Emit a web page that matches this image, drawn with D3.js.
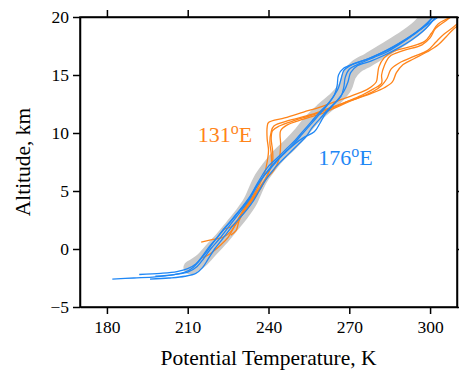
<!DOCTYPE html>
<html>
<head>
<meta charset="utf-8">
<script src="https://cdn.jsdelivr.net/npm/d3@7"></script>
<style>
  body { margin: 0; background: #fff; }
  svg text { font-family: "Liberation Serif", "Times New Roman", serif; }
  .axis path, .axis line { stroke: #000; stroke-width: 1.5; }
</style>
</head>
<body>
<script>
// potential temperature (K) vs altitude (km), pairs [theta, z]
const meanProfile = [[211,-1.6],[215,-1],[219,0],[223,1],[226.5,2],[230,3],[233,4],[235,5],[237,6],[240,7],[243.5,8],[248,9],[252,10],[255.5,11],[260,12],[265,13],[268.5,14],[270,15],[272.5,15.7],[277,16.3],[282,17],[289,18],[295,19],[299,20]];

const blue1 = [[182,-2.6],[190,-2.5],[198,-2.4],[205,-2.2],[209,-2],[212,-1.6],[214,-1.1],[216.5,-0.4],[219,0.4],[222,1.3],[225,2.1],[228,3],[231,3.8],[233.5,4.6],[235,5.3],[237,6.1],[239.5,7],[243,7.8],[246.5,8.6],[250,9.4],[253,10.2],[256,11],[259,11.8],[262,12.5],[264.5,13.3],[265.5,14.1],[266,15],[268,15.6],[272,16],[277,16.4],[282,16.9],[287,17.5],[292,18.2],[296,18.9],[300,19.5],[303,20]];
const blue2 = [[192,-2.2],[200,-2.1],[206,-1.95],[210,-1.7],[213,-1.3],[215.5,-0.6],[218,0.2],[221,1],[224,1.9],[227.5,2.8],[230.5,3.7],[233,4.5],[235.5,5.4],[238,6.2],[241,7],[244,7.8],[247,8.5],[250,9.1],[253,9.6],[257,10.1],[259,10.8],[261,11.6],[264,12.4],[267,13.2],[268,14],[268.5,14.8],[270,15.5],[274,16],[279,16.5],[284,17],[289,17.7],[294,18.5],[298,19.2],[301,20]];
const blue3 = [[196,-2.6],[203,-2.5],[209,-2.35],[213,-2.1],[215.5,-1.6],[217.5,-0.9],[220,0],[223,0.9],[226,1.8],[229,2.6],[232,3.4],[234.5,4.2],[236.5,5],[238.5,5.8],[241,6.6],[244,7.4],[247.5,8.2],[251,9],[254,9.7],[256,10.4],[259,11.2],[262,12],[265.5,12.8],[268,13.6],[269.5,14.4],[270.5,15.2],[273,15.8],[278,16.2],[283,16.7],[288,17.3],[293,18],[297,18.7],[300,19.4],[302,20]];
const blue4 = [[198,-2.35],[205,-2.2],[210,-2.0],[213.5,-1.5],[216,-0.8],[218.5,0],[221.5,0.8],[224.5,1.7],[227.5,2.6],[230.5,3.5],[233,4.3],[235,5.1],[237,5.9],[239.5,6.7],[242.5,7.5],[246,8.3],[249.5,9.1],[252.5,9.9],[255.5,10.7],[258.5,11.5],[261.5,12.3],[264,13.1],[266,13.9],[267,14.7],[268,15.4],[271,15.9],[276,16.3],[281,16.8],[286,17.4],[291,18.1],[295.5,18.8],[299,19.5],[301,20]];

const orange1 = [[215,0.6],[219,0.8],[223,1.0],[226,1.5],[228.5,2.5],[231,3.5],[234,4.5],[236.5,5.5],[238.5,6.5],[239.5,7.5],[240,8.5],[239.5,9.5],[239.5,10.5],[240,10.9],[246,11.3],[253,11.8],[260,12.3],[266,12.8],[272,13.3],[277,13.8],[280,14.4],[280.5,15],[281,15.7],[283,16.5],[286,17],[292,17.4],[298,17.9],[300.5,18.6],[303,19.4],[308,20]];
const orange2 = [[223,1.7],[226,1.9],[229,2.6],[232,3.6],[235,4.6],[238,5.6],[240,6.6],[241.5,7.5],[241.5,8.5],[241,9.5],[241.5,10.2],[244,10.6],[250,11.1],[257,11.6],[264,12.2],[270,12.8],[275,13.3],[279,13.8],[282,14.3],[282,15],[283,15.8],[285,16.6],[290,17.1],[297,17.6],[300,18.2],[302,19],[306,19.7],[307.5,20]];
const orange3 = [[215.5,-0.8],[219,-0.3],[222,0.3],[225,1.0],[227.5,2],[230.5,3],[233.5,4],[236.5,5],[239,6],[242,6.8],[244,7.8],[244.5,9],[244.5,10.2],[247,10.7],[253,11.2],[260,11.7],[266,12.3],[272,12.9],[278,13.4],[283,13.9],[286,14.4],[287.5,15.2],[290,15.9],[294,16.4],[299,17],[303,17.6],[306,18.3],[308,18.8],[310,19.2]];
const orange4 = [[226,1.2],[228,1.6],[229,2.4],[231,3.4],[234,4.4],[237,5.4],[239.5,6.3],[241,7.2],[241,8.2],[240.5,9.2],[241,10.1],[242,10.6],[248,11.1],[256,11.6],[262,12.1],[268,12.6],[274,13.1],[279,13.6],[282,14.1],[284,14.7],[285.5,15.5],[289,16.1],[294,16.6],[299,17.1],[302,17.8],[305,18.5],[308,19.0],[310,19.4]];

const xTicks = [180, 210, 240, 270, 300];
const yTicks = [-5, 0, 5, 10, 15, 20];

const width = 459, height = 372;
const margin = {top: 17, right: 2, bottom: 65, left: 80};
const serif = "'Liberation Serif', 'Times New Roman', serif";

const svg = d3.select("body").append("svg")
    .attr("width", width)
    .attr("height", height);

const x = d3.scaleLinear().domain([170, 310]).range([margin.left, width - margin.right]);
const y = d3.scaleLinear().domain([-5, 20]).range([height - margin.bottom, margin.top]);

svg.append("defs").append("clipPath").attr("id", "clip")
  .append("rect")
    .attr("x", margin.left).attr("y", margin.top)
    .attr("width", x.range()[1] - margin.left)
    .attr("height", y.range()[0] - margin.top);

const line = d3.line()
    .x(d => x(d[0]))
    .y(d => y(d[1]))
    .curve(d3.curveCatmullRom);

const plot = svg.append("g").attr("clip-path", "url(#clip)");

plot.append("path")
    .attr("d", line(meanProfile))
    .attr("fill", "none")
    .attr("stroke", "#c9c9c9")
    .attr("stroke-width", 14)
    .attr("stroke-linecap", "round")
    .attr("stroke-linejoin", "round");

[orange1, orange2, orange3, orange4].forEach(d => {
  plot.append("path")
      .attr("d", line(d))
      .attr("fill", "none")
      .attr("stroke", "#ff8419")
      .attr("stroke-width", 1.3);
});

[blue1, blue2, blue3, blue4].forEach(d => {
  plot.append("path")
      .attr("d", line(d))
      .attr("fill", "none")
      .attr("stroke", "#1f87f5")
      .attr("stroke-width", 1.3);
});

const x0 = margin.left, x1 = width - margin.right;
const y0 = height - margin.bottom, y1 = margin.top;

function styleAxis(g) {
  g.attr("font-family", serif).attr("font-size", 17.5);
  g.selectAll("text").attr("fill", "#000");
}

svg.append("g").attr("class", "axis")
    .attr("transform", "translate(0," + y0 + ")")
    .call(d3.axisBottom(x).tickValues(xTicks).tickSizeInner(7).tickSizeOuter(0).tickPadding(7))
    .call(styleAxis);
svg.append("g").attr("class", "axis")
    .attr("transform", "translate(0," + y1 + ")")
    .call(d3.axisTop(x).tickValues(xTicks).tickSizeInner(7).tickSizeOuter(0).tickFormat(""));
svg.append("g").attr("class", "axis")
    .attr("transform", "translate(" + x0 + ",0)")
    .call(d3.axisLeft(y).tickValues(yTicks).tickSizeInner(7).tickSizeOuter(0).tickPadding(4)
      .tickFormat(d => d < 0 ? "\u2212" + Math.abs(d) : d))
    .call(styleAxis);
svg.append("g").attr("class", "axis")
    .attr("transform", "translate(" + x1 + ",0)")
    .call(d3.axisRight(y).tickValues(yTicks).tickSizeInner(7).tickSizeOuter(0).tickFormat(""));

svg.append("rect")
    .attr("x", x0).attr("y", y1)
    .attr("width", x1 - x0).attr("height", y0 - y1)
    .attr("fill", "none").attr("stroke", "#000").attr("stroke-width", 1.5);

svg.append("text")
    .attr("text-anchor", "middle")
    .attr("transform", "translate(" + ((x0 + x1) / 2) + "," + (height - 7) + ")")
    .style("font-size", "21.5px")
    .text("Potential Temperature, K");

svg.append("text")
    .attr("text-anchor", "middle")
    .attr("transform", "translate(30," + ((y0 + y1) / 2) + ")rotate(-90)")
    .style("font-size", "21.5px")
    .text("Altitude, km");

function label(tx, ty, num, color) {
  const t = svg.append("text")
      .attr("x", x(tx)).attr("y", y(ty))
      .attr("fill", color)
      .style("font-size", "22px");
  t.append("tspan").text(num);
  t.append("tspan").attr("dy", -8).style("font-size", "16px").text("o");
  t.append("tspan").attr("dy", 8).text("E");
}
label(213.7, 9.2, "131", "#ff8419");
label(258.5, 7.2, "176", "#1f87f5");
</script>
</body>
</html>
